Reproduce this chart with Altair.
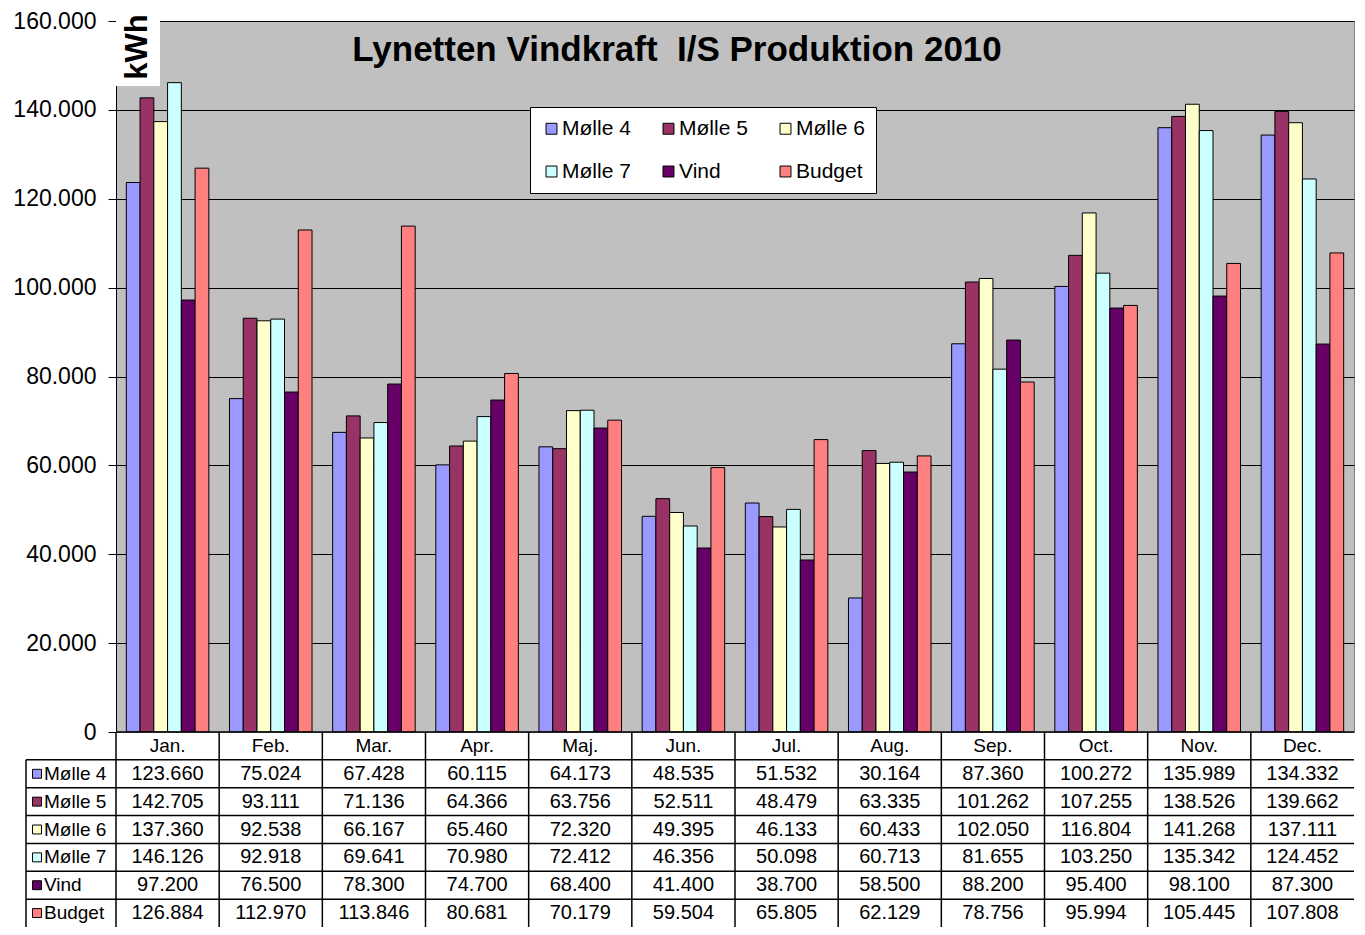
import altair as alt
import pandas as pd

months = ["Jan.", "Feb.", "Mar.", "Apr.", "Maj.", "Jun.", "Jul.", "Aug.", "Sep.", "Oct.", "Nov.", "Dec."]
series = ["Mølle 4", "Mølle 5", "Mølle 6", "Mølle 7", "Vind", "Budget"]
colors = ["#9999FF", "#993366", "#FFFFCC", "#CCFFFF", "#660066", "#FF8080"]

molle4 = [123660, 75024, 67428, 60115, 64173, 48535, 51532, 30164, 87360, 100272, 135989, 134332]
molle5 = [142705, 93111, 71136, 64366, 63756, 52511, 48479, 63335, 101262, 107255, 138526, 139662]
molle6 = [137360, 92538, 66167, 65460, 72320, 49395, 46133, 60433, 102050, 116804, 141268, 137111]
molle7 = [146126, 92918, 69641, 70980, 72412, 46356, 50098, 60713, 81655, 103250, 135342, 124452]
vind = [97200, 76500, 78300, 74700, 68400, 41400, 38700, 58500, 88200, 95400, 98100, 87300]
budget = [126884, 112970, 113846, 80681, 70179, 59504, 65805, 62129, 78756, 95994, 105445, 107808]

y_ticks = [0, 20000, 40000, 60000, 80000, 100000, 120000, 140000, 160000]
title_text = "Lynetten Vindkraft  I/S Produktion 2010"
unit_text = "kWh"

FONT = "Liberation Sans"
W = 1238
H = 711
HT = 195

values = [molle4, molle5, molle6, molle7, vind, budget]
recs = []
for s, vals in zip(series, values):
    for m, v in zip(months, vals):
        recs.append({"month": m, "series": s, "row": s, "value": v,
                     "label": f"{v:,}".replace(",", ".")})
df = pd.DataFrame(recs)

color_enc = alt.Color("series:N", sort=series, scale=alt.Scale(domain=series, range=colors),
                      legend=alt.Legend(title=None, orient="none", legendX=414, legendY=86,
                                        columns=3, direction="horizontal",
                                        symbolType="square", symbolSize=120,
                                        symbolStrokeColor="black", symbolStrokeWidth=1,
                                        labelFont=FONT, labelFontSize=21, labelColor="black",
                                        fillColor="white", strokeColor="black",
                                        padding=11, rowPadding=21, columnPadding=27,
                                        labelOffset=0))

bars = alt.Chart(df).mark_bar(stroke="black", strokeWidth=1, opacity=1).encode(
    x=alt.X("month:N", sort=months, scale=alt.Scale(paddingInner=0.2, paddingOuter=0.1), axis=None),
    xOffset=alt.XOffset("series:N", sort=series, scale=alt.Scale(paddingInner=0, paddingOuter=0)),
    y=alt.Y("value:Q", scale=alt.Scale(domain=[0, 160000], nice=False),
            axis=alt.Axis(values=y_ticks, title=None,
                          labelExpr="replace(format(datum.value, ','), ',', '.')",
                          labelFont=FONT, labelFontSize=23, labelColor="black",
                          labelPadding=12, tickSize=8, tickColor="black",
                          domainColor="black", gridColor="black", gridWidth=1,
                          zindex=0)),
    color=color_enc,
)

one = pd.DataFrame({"t": [title_text.replace("  ", " \u00a0")], "u": [unit_text]})
white_box = alt.Chart(one).mark_rect(color="white").encode(
    x=alt.value(0), x2=alt.value(44), y=alt.value(-12), y2=alt.value(65))
unit = alt.Chart(one).mark_text(angle=270, font=FONT, fontSize=31, fontWeight="bold",
                                color="black").encode(
    x=alt.value(22), y=alt.value(26), text="u:N")
title = alt.Chart(one).mark_text(font=FONT, fontSize=35, fontWeight="bold",
                                 color="black").encode(
    x=alt.value(561), y=alt.value(29), text="t:N")

top = alt.layer(bars, white_box, unit, title).properties(
    width=W, height=H, view=alt.ViewBackground(fill="#C0C0C0", stroke="#808080"))

# ---- data table ----
rows = ["hdr"] + series
xs = alt.Scale(paddingInner=0, paddingOuter=0)
ys = alt.Scale(domain=rows, paddingInner=0, paddingOuter=0)
xt = alt.X("month:N", sort=months, scale=xs, axis=None)
yt = alt.Y("row:N", sort=rows, scale=ys, axis=None)

hdr_df = pd.DataFrame({"month": months, "row": ["hdr"] * len(months)})
ser_df = pd.DataFrame({"series": series, "row": series})

hdr_text = alt.Chart(hdr_df).mark_text(font=FONT, fontSize=19, color="black").encode(
    x=xt, y=yt, text="month:N")
num_text = alt.Chart(df).mark_text(font=FONT, fontSize=20, color="black").encode(
    x=xt, y=yt, text="label:N")
vlines = alt.Chart(hdr_df).mark_rule(color="black", strokeWidth=1.5).encode(
    x=alt.X("month:N", sort=months, scale=xs, axis=None, bandPosition=0),
    y=alt.value(0), y2=alt.value(HT))
hlines = alt.Chart(ser_df).mark_rule(color="black", strokeWidth=1.5).encode(
    y=alt.Y("row:N", sort=rows, scale=ys, axis=None, bandPosition=0),
    x=alt.value(-90), x2=alt.value(W))
top_line = alt.Chart(pd.DataFrame({"row": ["hdr"]})).mark_rule(color="black", strokeWidth=1.5).encode(
    y=alt.Y("row:N", sort=rows, scale=ys, axis=None, bandPosition=0),
    x=alt.value(0), x2=alt.value(W))
left_line = alt.Chart(pd.DataFrame({"row": ["Mølle 4"]})).mark_rule(color="black", strokeWidth=1.5).encode(
    y=alt.Y("row:N", sort=rows, scale=ys, axis=None, bandPosition=0),
    y2=alt.value(HT), x=alt.value(-90))
swatch = alt.Chart(ser_df).mark_square(size=80, stroke="black", strokeWidth=1, opacity=1).encode(
    x=alt.value(-79), y=yt,
    color=alt.Color("series:N", sort=series, scale=alt.Scale(domain=series, range=colors), legend=None))
row_lbl = alt.Chart(ser_df).mark_text(font=FONT, fontSize=19, color="black", align="left").encode(
    x=alt.value(-72), y=yt, text="series:N")

table = alt.layer(vlines, hlines, top_line, left_line, hdr_text, num_text, swatch, row_lbl).properties(
    width=W, height=HT, view=alt.ViewBackground(fill="white", stroke="transparent"))

chart = alt.vconcat(top, table, spacing=0, bounds="flush").resolve_scale(
    x="independent", y="independent").properties(
    padding={"left": 4, "top": 0, "right": 0, "bottom": 0}).configure(
    font=FONT).configure_view(stroke="transparent")

chart.save("out.html", embed_options={"renderer": "svg", "actions": False})
